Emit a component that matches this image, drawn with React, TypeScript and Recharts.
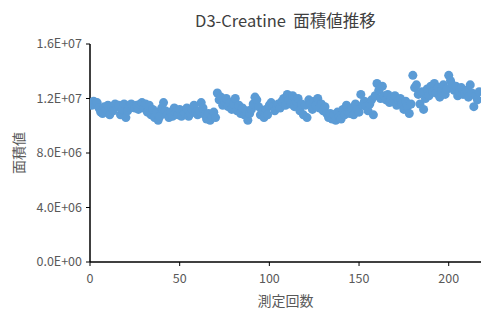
import { ScatterChart, Scatter, XAxis, YAxis, ZAxis } from "recharts";

// 測定回数 (x) and 面積値 (y)
const counts = Array.from({ length: 217 }, (_, i) => i + 1);

const areaValues = [
  1.15e7, 1.18e7, 1.16e7, 1.17e7, 1.13e7, 1.1e7, 1.09e7, 1.14e7, 1.12e7, 1.15e7,
  1.08e7, 1.13e7, 1.11e7, 1.16e7, 1.14e7, 1.15e7, 1.08e7, 1.12e7, 1.16e7, 1.06e7,
  1.11e7, 1.15e7, 1.16e7, 1.14e7, 1.13e7, 1.15e7, 1.12e7, 1.16e7, 1.17e7, 1.13e7,
  1.16e7, 1.1e7, 1.15e7, 1.08e7, 1.12e7, 1.06e7, 1.1e7, 1.04e7, 1.07e7, 1.13e7,
  1.17e7, 1.11e7, 1.08e7, 1.06e7, 1.1e7, 1.07e7, 1.13e7, 1.1e7, 1.08e7, 1.12e7,
  1.07e7, 1.11e7, 1.09e7, 1.13e7, 1.07e7, 1.09e7, 1.12e7, 1.15e7, 1.1e7, 1.08e7,
  1.11e7, 1.17e7, 1.13e7, 1.08e7, 1.05e7, 1.09e7, 1.04e7, 1.07e7, 1.1e7, 1.06e7,
  1.24e7, 1.19e7, 1.21e7, 1.15e7, 1.18e7, 1.2e7, 1.14e7, 1.17e7, 1.12e7, 1.16e7,
  1.2e7, 1.11e7, 1.15e7, 1.09e7, 1.13e7, 1.08e7, 1.11e7, 1.04e7, 1.09e7, 1.12e7,
  1.16e7, 1.21e7, 1.19e7, 1.14e7, 1.08e7, 1.1e7, 1.06e7, 1.12e7, 1.08e7, 1.15e7,
  1.17e7, 1.14e7, 1.11e7, 1.15e7, 1.16e7, 1.13e7, 1.18e7, 1.2e7, 1.15e7, 1.23e7,
  1.19e7, 1.16e7, 1.22e7, 1.14e7, 1.18e7, 1.2e7, 1.11e7, 1.16e7, 1.08e7, 1.15e7,
  1.06e7, 1.19e7, 1.16e7, 1.12e7, 1.18e7, 1.15e7, 1.2e7, 1.13e7, 1.16e7, 1.11e7,
  1.14e7, 1.09e7, 1.06e7, 1.09e7, 1.05e7, 1.08e7, 1.04e7, 1.1e7, 1.07e7, 1.05e7,
  1.12e7, 1.08e7, 1.15e7, 1.1e7, 1.09e7, 1.13e7, 1.08e7, 1.16e7, 1.12e7, 1.1e7,
  1.23e7, 1.15e7, 1.18e7, 1.14e7, 1.11e7, 1.16e7, 1.19e7, 1.08e7, 1.22e7, 1.31e7,
  1.26e7, 1.2e7, 1.29e7, 1.22e7, 1.19e7, 1.23e7, 1.17e7, 1.21e7, 1.18e7, 1.22e7,
  1.15e7, 1.19e7, 1.2e7, 1.16e7, 1.12e7, 1.18e7, 1.14e7, 1.09e7, 1.16e7, 1.37e7,
  1.28e7, 1.3e7, 1.23e7, 1.16e7, 1.25e7, 1.12e7, 1.2e7, 1.27e7, 1.22e7, 1.29e7,
  1.25e7, 1.31e7, 1.24e7, 1.28e7, 1.21e7, 1.26e7, 1.3e7, 1.23e7, 1.27e7, 1.37e7,
  1.33e7, 1.3e7, 1.26e7, 1.29e7, 1.22e7, 1.25e7, 1.28e7, 1.23e7, 1.24e7, 1.26e7,
  1.21e7, 1.3e7, 1.24e7, 1.14e7, 1.22e7, 1.19e7, 1.25e7,
];

const xTicks = [0, 50, 100, 150, 200];
const yTicks = [0, 4e6, 8e6, 1.2e7, 1.6e7];

const points = counts.map((c, i) => ({ x: c, y: areaValues[i] }));

const fmtExp = (v: number) => {
  if (v === 0) return "0.0E+00";
  const exp = Math.floor(Math.log10(Math.abs(v)));
  const mant = v / Math.pow(10, exp);
  return `${mant.toFixed(1)}E+${String(exp).padStart(2, "0")}`;
};

const font = '"Noto Sans CJK JP", "Noto Sans", sans-serif';
const tickStyle = { fontSize: 12.5, fill: "#595959", fontFamily: font };

export default function App() {
  return (
    <div style={{ position: "absolute", left: 0, top: 0, width: 481, height: 311, background: "#fff", fontFamily: font }}>
      <div
        style={{
          position: "absolute",
          left: 90,
          width: 391,
          top: 8,
          textAlign: "center",
          fontSize: 16.5,
          color: "#404040",
          lineHeight: "24px",
        }}
      >
        D3-Creatine&nbsp;&nbsp;面積値推移
      </div>
      <div
        style={{
          position: "absolute",
          left: 18,
          top: 153,
          transform: "translate(-50%, -50%) rotate(-90deg)",
          fontSize: 14,
          color: "#595959",
          whiteSpace: "nowrap",
        }}
      >
        面積値
      </div>
      <div
        style={{
          position: "absolute",
          left: 90,
          width: 391,
          top: 290,
          textAlign: "center",
          fontSize: 14,
          color: "#595959",
          lineHeight: "20px",
        }}
      >
        測定回数
      </div>
      <ScatterChart width={481} height={311} margin={{ top: 44, right: 0, bottom: 0, left: 0 }}>
        <XAxis
          type="number"
          dataKey="x"
          domain={[0, 218]}
          ticks={xTicks}
          allowDataOverflow
          height={49}
          tick={tickStyle}
          tickSize={4}
          tickMargin={8}
          axisLine={{ stroke: "#000", strokeWidth: 1.5 }}
          tickLine={{ stroke: "#000" }}
        />
        <YAxis
          type="number"
          dataKey="y"
          domain={[0, 1.6e7]}
          ticks={yTicks}
          width={90}
          tick={tickStyle}
          tickFormatter={fmtExp}
          tickSize={4}
          tickMargin={4}
          axisLine={{ stroke: "#000", strokeWidth: 1.5 }}
          tickLine={{ stroke: "#000" }}
        />
        <ZAxis range={[50, 50]} />
        <Scatter data={points} fill="#5B9BD5" shape="circle" isAnimationActive={false} />
      </ScatterChart>
    </div>
  );
}
